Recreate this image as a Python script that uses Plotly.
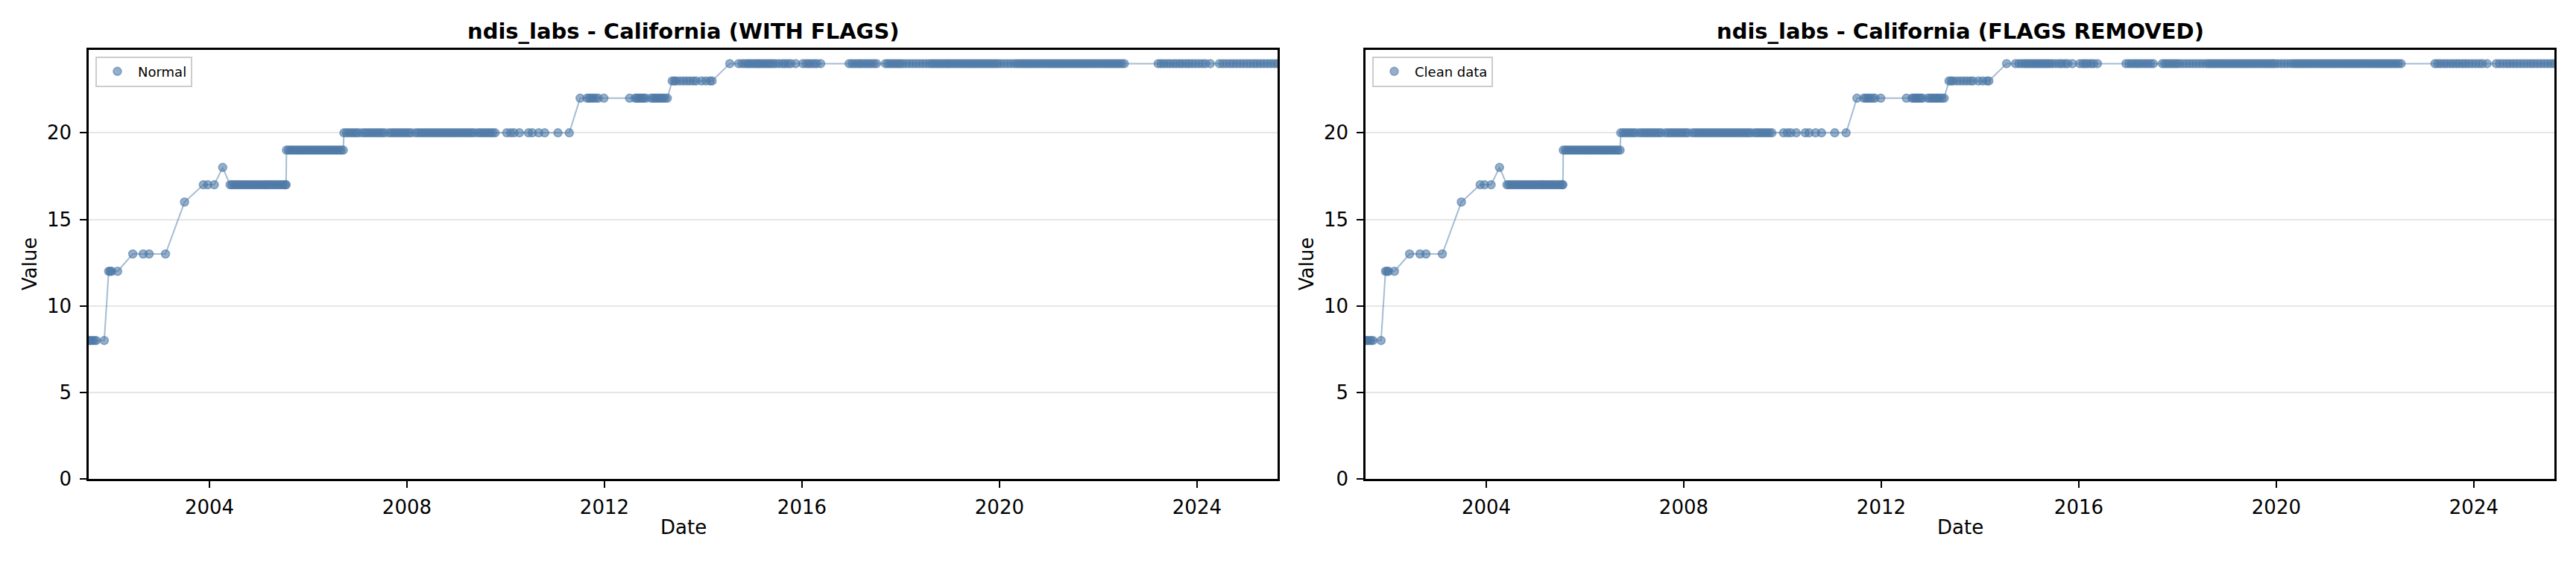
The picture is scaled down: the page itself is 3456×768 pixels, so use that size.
import plotly.graph_objects as go

# ---------------- data ----------------
d8 = ["2001-07-22", "2001-08-04", "2001-08-18", "2001-09-01", "2001-09-15", "2001-11-14"]
d12 = ["2001-12-17", "2001-12-28", "2002-01-08", "2002-02-21"]
d13 = ["2002-06-13", "2002-08-29", "2002-10-12", "2003-02-10"]
d16 = ["2003-07-01"]
d17a = ["2003-11-17", "2003-12-20", "2004-02-06"]
d18 = ["2004-04-08"]
d17b = ["2004-06-02", "2004-06-16", "2004-07-01", "2004-07-16", "2004-08-01", "2004-08-16",
        "2004-09-01", "2004-09-16", "2004-10-01", "2004-10-16", "2004-11-01", "2004-11-16",
        "2004-12-01", "2004-12-16", "2005-01-01", "2005-01-16", "2005-02-01", "2005-02-16",
        "2005-03-01", "2005-03-16", "2005-04-01", "2005-04-16", "2005-05-01", "2005-05-16",
        "2005-06-01", "2005-06-16", "2005-07-01", "2005-07-16", "2005-07-21"]
d19 = ["2005-07-24", "2005-08-08", "2005-08-23", "2005-09-07", "2005-09-22", "2005-10-07",
       "2005-10-22", "2005-11-06", "2005-11-21", "2005-12-06", "2005-12-21", "2006-01-05",
       "2006-01-20", "2006-02-04", "2006-02-19", "2006-03-06", "2006-03-21", "2006-04-05",
       "2006-04-20", "2006-05-05", "2006-05-20", "2006-06-04", "2006-06-19", "2006-07-04",
       "2006-07-19", "2006-08-03", "2006-08-18", "2006-09-02", "2006-09-17"]
d20 = ["2006-09-22", "2006-10-10", "2006-10-28", "2006-11-15", "2006-12-03", "2006-12-21",
       "2007-01-08", "2007-02-05", "2007-02-25", "2007-03-15", "2007-04-02", "2007-04-20",
       "2007-05-08", "2007-05-26", "2007-06-13", "2007-07-01", "2007-07-19", "2007-08-20",
       "2007-09-10", "2007-09-28", "2007-10-16", "2007-11-03", "2007-11-21", "2007-12-09",
       "2007-12-27", "2008-01-14", "2008-02-01", "2008-03-05", "2008-03-25", "2008-04-12",
       "2008-04-30", "2008-05-18", "2008-06-05", "2008-06-23", "2008-07-11", "2008-07-29",
       "2008-08-16", "2008-09-03", "2008-09-21", "2008-10-09", "2008-10-27", "2008-11-14",
       "2008-12-02", "2008-12-20", "2009-01-07", "2009-01-25", "2009-02-12", "2009-03-02",
       "2009-03-20", "2009-04-07", "2009-04-25", "2009-05-13", "2009-06-10", "2009-06-28",
       "2009-07-16", "2009-08-03", "2009-08-21", "2009-09-08", "2009-09-26", "2009-10-14",
       "2010-01-08", "2010-02-06", "2010-03-03", "2010-04-12", "2010-06-18", "2010-07-16",
       "2010-09-02", "2010-10-16", "2011-01-22", "2011-04-16"]
d22 = ["2011-07-05", "2011-08-25", "2011-09-10", "2011-09-25", "2011-10-10", "2011-10-28",
       "2011-11-15", "2011-12-28",
       "2012-07-05", "2012-08-15", "2012-08-28", "2012-09-10", "2012-09-22", "2012-10-05",
       "2012-10-18", "2012-11-01", "2012-12-10", "2012-12-28", "2013-01-10", "2013-01-25",
       "2013-02-08", "2013-02-22", "2013-03-08", "2013-03-25", "2013-04-10"]
d23 = ["2013-05-16", "2013-06-01", "2013-06-15", "2013-07-12", "2013-08-07", "2013-09-01",
       "2013-09-25", "2013-10-20", "2013-11-10", "2013-12-20", "2014-01-20", "2014-02-20",
       "2014-03-07"]
d24 = ["2014-07-16",
       "2014-09-20", "2014-10-15", "2014-11-05", "2014-11-25", "2014-12-10", "2014-12-28",
       "2015-01-15", "2015-02-01", "2015-02-18", "2015-03-07", "2015-03-24", "2015-04-10",
       "2015-04-27", "2015-05-14", "2015-06-01", "2015-06-20", "2015-07-15", "2015-08-10",
       "2015-08-28", "2015-09-20", "2015-10-10", "2015-11-15",
       "2016-01-08", "2016-02-01", "2016-02-20", "2016-03-10", "2016-04-01", "2016-04-20",
       "2016-05-18",
       "2016-12-15", "2017-01-05", "2017-01-25", "2017-02-15", "2017-03-05", "2017-03-25",
       "2017-04-15", "2017-05-05", "2017-05-25", "2017-06-15", "2017-07-05",
       "2017-09-10", "2017-09-28", "2017-10-16", "2017-11-03", "2017-11-21", "2017-12-09",
       "2017-12-27", "2018-01-14", "2018-02-08", "2018-03-05", "2018-03-30", "2018-04-24",
       "2018-05-19", "2018-06-13", "2018-07-08", "2018-08-02", "2018-08-20", "2018-09-07",
       "2018-09-25", "2018-10-13", "2018-10-31", "2018-11-18", "2018-12-06", "2018-12-24",
       "2019-01-11", "2019-01-29", "2019-02-16", "2019-03-06", "2019-03-24", "2019-04-11",
       "2019-04-29", "2019-05-17", "2019-06-04", "2019-06-22", "2019-07-10", "2019-07-28",
       "2019-08-15", "2019-09-02", "2019-09-20", "2019-10-08", "2019-10-26", "2019-11-13",
       "2019-12-01", "2019-12-19", "2020-01-10", "2020-02-05", "2020-03-01", "2020-03-26",
       "2020-04-20", "2020-05-10", "2020-05-28", "2020-06-15", "2020-07-03", "2020-07-21",
       "2020-08-08", "2020-08-26", "2020-09-13", "2020-10-01", "2020-10-19", "2020-11-06",
       "2020-11-24", "2020-12-12", "2020-12-30", "2021-01-17", "2021-02-04", "2021-02-22",
       "2021-03-12", "2021-03-30", "2021-04-17", "2021-05-05", "2021-05-23", "2021-06-10",
       "2021-06-28", "2021-07-16", "2021-08-03", "2021-08-21", "2021-09-08", "2021-09-26",
       "2021-10-14", "2021-11-01", "2021-11-19", "2021-12-07", "2021-12-25", "2022-01-12",
       "2022-01-30", "2022-02-17", "2022-03-07", "2022-03-25", "2022-04-12", "2022-04-30",
       "2022-05-18", "2022-06-05", "2022-06-23", "2022-07-12",
       "2023-03-20", "2023-04-10", "2023-05-01", "2023-05-25", "2023-06-15", "2023-07-10",
       "2023-08-01", "2023-08-25", "2023-09-15", "2023-10-10", "2023-11-01", "2023-11-25",
       "2023-12-20", "2024-01-15", "2024-02-10", "2024-03-05", "2024-04-08",
       "2024-06-15", "2024-07-10", "2024-08-05", "2024-09-01", "2024-09-25", "2024-10-20",
       "2024-11-15", "2024-12-10", "2025-01-05", "2025-01-30", "2025-02-25", "2025-03-20",
       "2025-04-15", "2025-05-10", "2025-06-05", "2025-06-30", "2025-07-25", "2025-08-18"]

plateau_levels = [8, 12, 13, 16, 17, 18, 17, 19, 20, 22, 23, 24]
plateau_dates = [d8, d12, d13, d16, d17a, d18, d17b, d19, d20, d22, d23, d24]

# Flags removed: no visible difference in the reference
clean_levels = list(plateau_levels)
clean_dates = list(plateau_dates)

titles = ["ndis_labs - California (WITH FLAGS)", "ndis_labs - California (FLAGS REMOVED)"]
legend_names = ["Normal", "Clean data"]
y_ticks = [0, 5, 10, 15, 20]
x_tick_labels = ["2004", "2008", "2012", "2016", "2020", "2024"]
x_range = ["2001-07-22", "2025-08-19"]
y_range = [0, 24.8]


def flatten(levels, dates):
    xs, ys = [], []
    for lv, ds in zip(levels, dates):
        for d in ds:
            xs.append(d)
            ys.append(lv)
    return xs, ys


# The page body keeps the browser's default 8px margin, so the figure is made
# 16px smaller than the window and every screen position is offset by 8px.
OFF = 8
W, H = 3456 - 2 * OFF, 768 - 2 * OFF


def px(X):
    return (X - OFF) / W


def py(Y):
    return 1 - (Y - OFF) / H


BLUE = "78,121,167"
FONT = "DejaVu Sans"

panels = [
    dict(xd=(119, 1714), data=flatten(plateau_levels, plateau_dates)),
    dict(xd=(1832, 3427), data=flatten(clean_levels, clean_dates)),
]
y_top_px, y_bot_px = 68.0, 656.0

fig = go.Figure()
for i, p in enumerate(panels):
    xs, ys = p["data"]
    xa = "x" if i == 0 else "x2"
    ya = "y" if i == 0 else "y2"
    lg = "legend" if i == 0 else "legend2"
    fig.add_trace(go.Scatter(x=xs, y=ys, mode="lines", xaxis=xa, yaxis=ya,
                             line=dict(color=f"rgba({BLUE},0.5)", width=2),
                             showlegend=False, hoverinfo="skip"))
    fig.add_trace(go.Scatter(x=xs, y=ys, mode="markers", xaxis=xa, yaxis=ya,
                             name=legend_names[i], legend=lg,
                             marker=dict(size=11, color=f"rgba({BLUE},0.6)",
                                         line=dict(color=f"rgba({BLUE},0.6)", width=1.5))))

axis_common = dict(showline=True, mirror=True, linecolor="black", linewidth=2.5,
                   ticks="outside", ticklen=9, tickwidth=2, tickcolor="black",
                   zeroline=False,
                   tickfont=dict(family=FONT, size=26, color="black"))

layout = dict(width=W, height=H, autosize=False, margin=dict(l=0, r=0, t=0, b=0),
              paper_bgcolor="white", plot_bgcolor="white", showlegend=True)

tickvals = [f"{y}-01-01" for y in x_tick_labels]
annotations = []
for i, p in enumerate(panels):
    x0, x1 = p["xd"]
    sfx = "" if i == 0 else "2"
    layout["xaxis" + sfx] = dict(axis_common, domain=[px(x0), px(x1)], type="date",
                                 range=x_range, tickvals=tickvals, ticktext=x_tick_labels,
                                 showgrid=False, anchor="y" + sfx,
                                 ticklabelstandoff=4)
    layout["yaxis" + sfx] = dict(axis_common, domain=[py(y_bot_px), py(y_top_px)],
                                 range=y_range, tickvals=y_ticks, showgrid=True,
                                 gridcolor="#e6e6e6", gridwidth=2, anchor="x" + sfx,
                                 ticklabelstandoff=6)
    layout["legend" if i == 0 else "legend2"] = dict(
        x=px(x0 + 9), y=py(77), xanchor="left", yanchor="top",
        bgcolor="rgba(255,255,255,0.8)", bordercolor="#cccccc", borderwidth=2,
        font=dict(family=FONT, size=18, color="black"), itemwidth=45)
    cx = px((x0 + x1) / 2)
    annotations.append(dict(text=f"<b>{titles[i]}</b>", x=cx, y=py(43), xref="paper",
                            yref="paper", showarrow=False, xanchor="center", yanchor="middle",
                            font=dict(family=FONT, size=29, color="black")))
    annotations.append(dict(text="Date", x=cx, y=py(722), xref="paper", yref="paper",
                            showarrow=False, xanchor="center", yanchor="middle",
                            font=dict(family=FONT, size=26, color="black")))
    annotations.append(dict(text="Value", x=px(x0 - 79), y=py((y_top_px + y_bot_px) / 2),
                            xref="paper", yref="paper", showarrow=False, textangle=-90,
                            xanchor="center", yanchor="middle",
                            font=dict(family=FONT, size=26, color="black")))
layout["annotations"] = annotations

fig.update_layout(**layout)
fig.write_html("out.html", config={"displayModeBar": False, "responsive": False})
